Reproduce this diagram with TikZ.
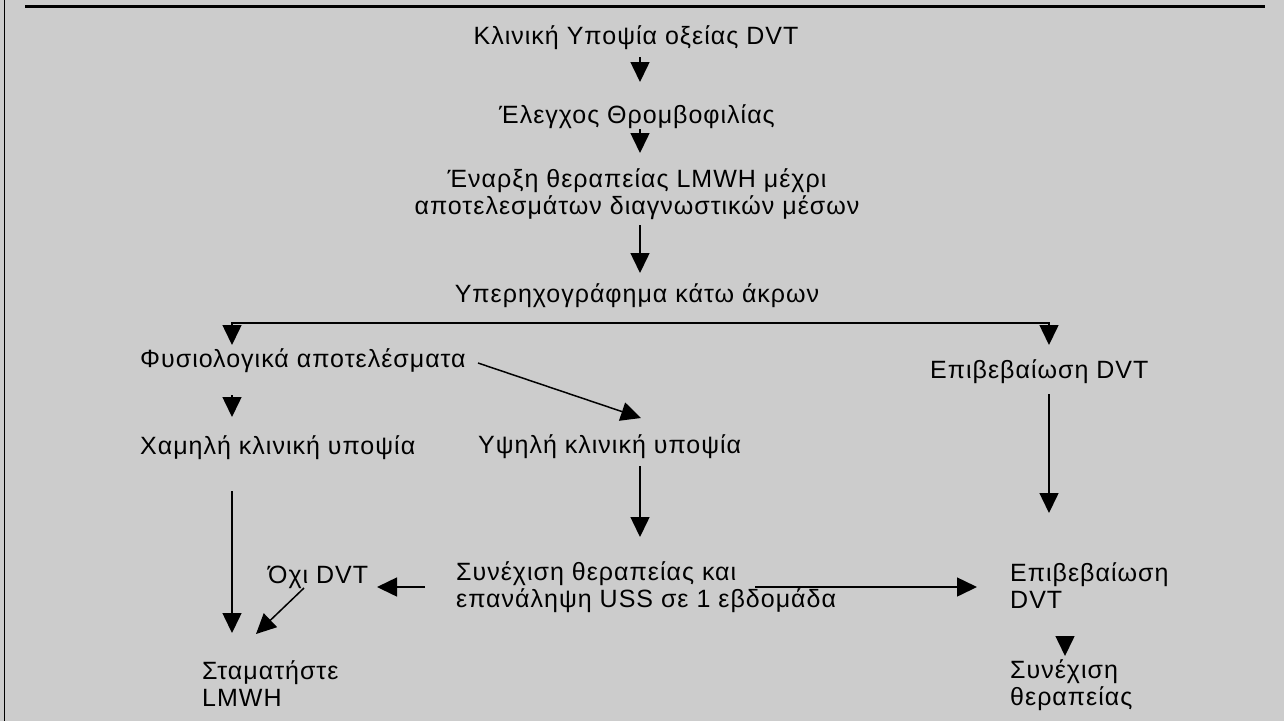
\documentclass[tikz,border=0pt]{standalone}
\usepackage{fontspec}
\setmainfont[LetterSpace=4]{Liberation Sans}
\usepackage{tikz}
\usetikzlibrary{arrows.meta,positioning}
\definecolor{bggray}{HTML}{CCCCCC}

\tikzset{
  txt/.style={font=\fontsize{25}{27}\selectfont, inner sep=0pt, align=left},
  arr/.style={line width=1.5pt, -{Triangle[length=20pt,width=19pt]}},
  dbl/.style={line width=1.5pt, {Triangle[length=20pt,width=19pt]}-{Triangle[length=20pt,width=19pt]}}
}

\begin{document}
\begin{tikzpicture}[x=1pt,y=-1pt]
\useasboundingbox (0,0) rectangle (1284,721);
\fill[bggray] (0,0) rectangle (1284,721);
\draw[line width=1.5pt] (4.5,0) -- (4.5,721);
\draw[line width=3pt] (25,6) -- (1265,6);

% top column
\node[txt,anchor=base] (kliniki) at (636,44) {Κλινική Υποψία οξείας DVT};
\node[txt,anchor=base] (elegxos) at (637,123) {Έλεγχος Θρομβοφιλίας};
\node[txt,anchor=base,align=center] (enarxi) at (637,214) {Έναρξη θεραπείας LMWH μέχρι\\αποτελεσμάτων διαγνωστικών μέσων};
\node[txt,anchor=base] (uper) at (637,302) {Υπερηχογράφημα κάτω άκρων};

% branch corners
\coordinate (brL) at (232,323);
\coordinate (brR) at (1049,323);

% second row
\node[txt,anchor=base west] (fysio) at (140,367) {Φυσιολογικά αποτελέσματα};
\node[txt,anchor=base west] (epib1) at (930,378) {Επιβεβαίωση DVT};
\node[txt,anchor=base west] (xamili) at (140,454) {Χαμηλή κλινική υποψία};
\node[txt,anchor=base west] (ypsili) at (478,453) {Υψηλή κλινική υποψία};

% lower rows (base = last line)
\node[txt,anchor=base west] (synexisi) at (456,607) {Συνέχιση θεραπείας και\\επανάληψη USS σε 1 εβδομάδα};
\node[txt,anchor=base west] (oxi) at (268,583) {Όχι DVT};
\node[txt,anchor=base west] (epib2) at (1010,608) {Επιβεβαίωση\\DVT};
\node[txt,anchor=base west] (stamat) at (202,706) {Σταματήστε\\LMWH};
\node[txt,anchor=base west] (synex2) at (1010,705) {Συνέχιση\\θεραπείας};

% connectors
\draw[arr] ([shift={(4,13)}]kliniki.base) -- ([shift={(3,-41)}]elegxos.base);
\draw[arr] ([shift={(3,6)}]elegxos.base) -- ([shift={(3,-61)}]enarxi.base);
\draw[arr] ([shift={(3,11)}]enarxi.base) -- ([shift={(3,-29)}]uper.base);
\draw[dbl] ([shift={(92,-22)}]fysio.base west) -- (brL) -- (brR) -- ([shift={(119,-33)}]epib1.base west);
\draw[arr] ([shift={(338,-4)}]fysio.base west) -- ([shift={(163,-35)}]ypsili.base west);
\draw[arr] ([shift={(92,28)}]fysio.base west) -- ([shift={(92,-37)}]xamili.base west);
\draw[arr] ([shift={(119,16)}]epib1.base west) -- ([shift={(39,-95)}]epib2.base west);
\draw[arr] ([shift={(162,13)}]ypsili.base west) -- ([shift={(184,-70)}]synexisi.base west);
\draw[arr] ([shift={(92,37)}]xamili.base west) -- ([shift={(30,-73)}]stamat.base west);
\draw[arr] ([shift={(-31,-20)}]synexisi.base west) -- ([shift={(109,4)}]oxi.base west);
\draw[arr] ([shift={(299,-20)}]synexisi.base west) -- ([shift={(-33,-21)}]epib2.base west);
\draw[arr] ([shift={(36,5)}]oxi.base west) -- ([shift={(54,-72)}]stamat.base west);
\draw[arr] ([shift={(55,28)}]epib2.base west) -- ([shift={(55,-49)}]synex2.base west);
\end{tikzpicture}
\end{document}
